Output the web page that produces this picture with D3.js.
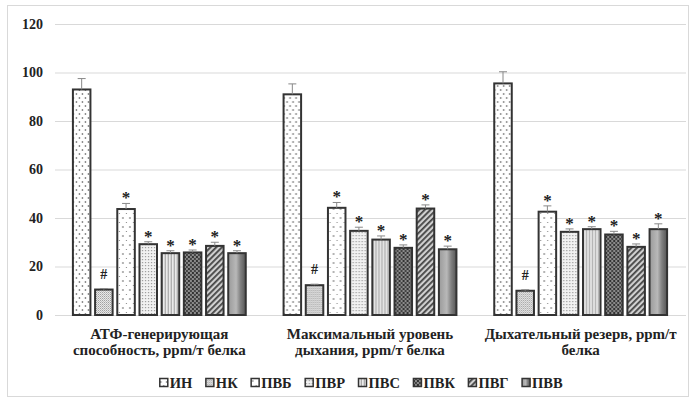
<!DOCTYPE html>
<html><head><meta charset="utf-8">
<script src="https://cdn.jsdelivr.net/npm/d3@7"></script>
<style>
html,body{margin:0;padding:0;background:#fff;}
</style></head>
<body>
<svg id="c" width="693" height="402"></svg>
<script>
const categories = [
  ["АТФ-генерирующая", "способность, ppm/т белка"],
  ["Максимальный уровень", "дыхания, ppm/т белка"],
  ["Дыхательный резерв, ppm/т", "белка"]
];
const seriesNames = ["ИН","НК","ПВБ","ПВР","ПВС","ПВК","ПВГ","ПВВ"];
const values = [
  [93.0, 91.0, 95.5],
  [10.5, 12.3, 10.0],
  [43.7, 44.2, 42.6],
  [29.2, 34.7, 34.3],
  [25.5, 31.1, 35.4],
  [25.8, 27.7, 33.2],
  [28.5, 43.9, 28.1],
  [25.5, 27.1, 35.4]
];
const errors = [
  [4.5, 4.3, 4.8],
  [0.4, 0.4, 0.4],
  [2.3, 2.2, 2.4],
  [1.0, 1.5, 1.2],
  [1.0, 1.5, 1.0],
  [1.0, 1.2, 1.3],
  [1.5, 1.5, 1.2],
  [1.0, 1.3, 2.2]
];
const marks = ["", "#", "*", "*", "*", "*", "*", "*"];
const yTicks = [0, 20, 40, 60, 80, 100, 120];

const FONT = '"Liberation Serif"';
function styleText(sel, size) {
  return sel.style("font-family", FONT).style("font-weight", "bold")
    .style("font-size", size + "px").style("fill", "#222");
}
const svg = d3.select("#c");
const defs = svg.append("defs");

function pat(id, w, h, draw, bg) {
  const p = defs.append("pattern").attr("id", id).attr("patternUnits", "userSpaceOnUse")
    .attr("width", w).attr("height", h);
  p.append("rect").attr("width", w).attr("height", h).attr("fill", bg);
  draw(p);
}
pat("p0", 6, 8, p => {
  p.append("circle").attr("cx", 1.5).attr("cy", 2).attr("r", 0.8).attr("fill", "#444");
  p.append("circle").attr("cx", 4.5).attr("cy", 6).attr("r", 0.8).attr("fill", "#444");
}, "#fff");
pat("p1", 2, 2, p => {
  p.append("rect").attr("width", 1).attr("height", 1).attr("fill", "#999");
  p.append("rect").attr("x", 1).attr("y", 1).attr("width", 1).attr("height", 1).attr("fill", "#bbb");
}, "#eee");
pat("p2", 7, 9, p => {
  p.append("circle").attr("cx", 2).attr("cy", 2).attr("r", 0.8).attr("fill", "#555");
  p.append("circle").attr("cx", 5.5).attr("cy", 6.5).attr("r", 0.6).attr("fill", "#777");
}, "#fff");
pat("p3", 3, 3, p => {
  p.append("rect").attr("x", 1).attr("y", 1).attr("width", 1.2).attr("height", 1.2).attr("fill", "#999");
}, "#f2f2f2");
pat("p4", 3, 4, p => {
  p.append("rect").attr("x", 0).attr("width", 1).attr("height", 4).attr("fill", "#aaa");
  p.append("rect").attr("x", 2).attr("width", 0.6).attr("height", 4).attr("fill", "#ccc");
}, "#ececec");
pat("p5", 4, 4, p => {
  p.append("rect").attr("width", 2).attr("height", 2).attr("fill", "#333");
  p.append("rect").attr("x", 2).attr("y", 2).attr("width", 2).attr("height", 2).attr("fill", "#444");
}, "#8a8a8a");
(function () {
  const p = defs.append("pattern").attr("id", "p6").attr("patternUnits", "userSpaceOnUse")
    .attr("width", 4).attr("height", 4).attr("patternTransform", "rotate(45)");
  p.append("rect").attr("width", 4).attr("height", 4).attr("fill", "#d0d0d0");
  p.append("rect").attr("width", 1.8).attr("height", 4).attr("fill", "#444");
})();
(function () {
  const g = defs.append("linearGradient").attr("id", "p7").attr("x1", 0).attr("x2", 1).attr("y1", 0).attr("y2", 0);
  g.append("stop").attr("offset", "0%").attr("stop-color", "#9a9a9a");
  g.append("stop").attr("offset", "45%").attr("stop-color", "#b8b8b8");
  g.append("stop").attr("offset", "70%").attr("stop-color", "#808080");
  g.append("stop").attr("offset", "100%").attr("stop-color", "#555");
})();
const fills = seriesNames.map((d, i) => `url(#p${i})`);

svg.append("rect").attr("x", 7.5).attr("y", 5.5).attr("width", 681).attr("height", 391)
  .attr("fill", "none").attr("stroke", "#d9d9d9");

const y = d3.scaleLinear().domain([0, 120]).range([315, 24]);
const x0 = d3.scaleBand().domain(d3.range(categories.length)).range([54, 686])
  .paddingInner(0.17).paddingOuter(0.085);
const x1 = d3.scaleBand().domain(d3.range(seriesNames.length)).range([0, x0.bandwidth()])
  .paddingInner(0.12);

const yAxis = d3.axisLeft(y).tickValues(yTicks).tickSize(-631).tickPadding(12);
const ga = svg.append("g").attr("transform", "translate(55,0)").call(yAxis);
ga.select(".domain").remove();
ga.selectAll(".tick line").attr("stroke", "#d9d9d9");
styleText(ga.selectAll(".tick text"), 14);

const groups = svg.append("g").selectAll("g").data(categories).join("g")
  .attr("transform", (d, i) => `translate(${x0(i)},0)`);

groups.each(function (cat, ci) {
  const g = d3.select(this);
  seriesNames.forEach((s, si) => {
    const v = values[si][ci], e = errors[si][ci];
    const bx = x1(si), bw = x1.bandwidth();
    g.append("rect").attr("x", bx + 1).attr("y", y(v)).attr("width", bw - 2).attr("height", y(0) - y(v))
      .attr("fill", fills[si]).attr("stroke", "#333").attr("stroke-width", 2);
    const cx = bx + bw / 2;
    g.append("line").attr("x1", cx).attr("x2", cx).attr("y1", y(v)).attr("y2", y(v + e))
      .attr("stroke", "#888").attr("stroke-width", 1);
    g.append("line").attr("x1", cx - 4).attr("x2", cx + 4).attr("y1", y(v + e)).attr("y2", y(v + e))
      .attr("stroke", "#888").attr("stroke-width", 1);
    if (marks[si]) {
      const t = g.append("text").attr("x", cx).attr("y", y(v + e) - (marks[si] === "#" ? 10 : 0))
        .attr("text-anchor", "middle").text(marks[si]);
      styleText(t, marks[si] === "#" ? 14 : 17);
    }
  });
  styleText(g.append("text").attr("x", x0.bandwidth() / 2).attr("y", 339).attr("text-anchor", "middle")
    .text(cat[0]), 15);
  styleText(g.append("text").attr("x", x0.bandwidth() / 2).attr("y", 355).attr("text-anchor", "middle")
    .text(cat[1]), 15);
});

const leg = svg.append("g");
let lx = 0;
seriesNames.forEach((s, i) => {
  const it = leg.append("g");
  it.append("rect").attr("x", 0.5).attr("y", -9.5).attr("width", 8).attr("height", 8)
    .attr("fill", fills[i]).attr("stroke", "#333").attr("stroke-width", 1.5);
  const t = styleText(it.append("text").attr("x", 10.5).attr("y", 0).text(s), 14.5);
  const w = 10.5 + t.node().getComputedTextLength();
  it.attr("transform", `translate(${lx},0)`);
  lx += w + 13;
});
const totalW = lx - 13;
leg.attr("transform", `translate(${361 - totalW / 2},388)`);
</script>
</body></html>
